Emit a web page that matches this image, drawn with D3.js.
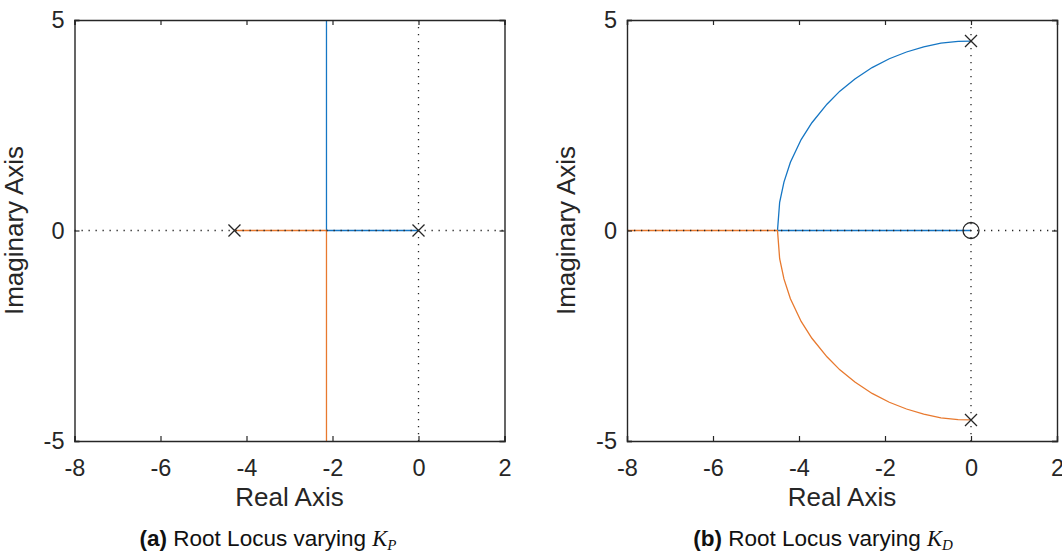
<!DOCTYPE html>
<html>
<head>
<meta charset="utf-8">
<script src="https://cdn.jsdelivr.net/npm/d3@7"></script>
<style>
  body { margin: 0; background: #fff; }
  svg { display: block; font-family: "Liberation Sans", Arial, sans-serif; }
</style>
</head>
<body>
<svg id="chart" width="1062" height="553"></svg>
<script>
// axis settings (shared by both panels)
var xDomain = [-8, 2];
var yDomain = [-5, 5];
var xTicks = [-8, -6, -4, -2, 0, 2];
var yTicks = [-5, 0, 5];

// (a) varying Kp : open-loop poles and the two branches
var kpPoles = [[0, 0], [-4.28, 0]];
var kpZeros = [];
var kpBranch1 = [[0, 0], [-2.14, 0], [-2.14, 10]];
var kpBranch2 = [[-4.28, 0], [-2.14, 0], [-2.14, -10]];

// (b) varying Kd : poles at +-4.5j, zero at origin
var kdPoles = [[0, 4.5], [0, -4.5]];
var kdZeros = [[0, 0]];
var kdBranch1 = [[0, 4.5], [-0.3, 4.49], [-0.7, 4.45], [-1.1, 4.36], [-1.5, 4.24], [-1.9, 4.08],
                 [-2.3, 3.87], [-2.7, 3.6], [-3.05, 3.31], [-3.35, 3.0], [-3.7, 2.56], [-3.95, 2.16],
                 [-4.2, 1.62], [-4.35, 1.15], [-4.45, 0.67], [-4.5, 0], [0, 0]];
var kdBranch2 = [[0, -4.5], [-0.3, -4.49], [-0.7, -4.45], [-1.1, -4.36], [-1.5, -4.24], [-1.9, -4.08],
                 [-2.3, -3.87], [-2.7, -3.6], [-3.05, -3.31], [-3.35, -3.0], [-3.7, -2.56], [-3.95, -2.16],
                 [-4.2, -1.62], [-4.35, -1.15], [-4.45, -0.67], [-4.5, 0], [-10, 0]];

var blue = "#1576C4", orange = "#E8792E", ink = "#262626";

var svg = d3.select("#chart");

function drawPanel(id, left, branches, poles, zeros, caption, sub, capX){
    var top = 20, w = 430, h = 421;
    var x = d3.scaleLinear().domain(xDomain).range([0, w]);
    var y = d3.scaleLinear().domain(yDomain).range([h, 0]);

    var g = svg.append("g").attr("transform", "translate(" + left + "," + top + ")");

    g.append("clipPath").attr("id", "clip" + id)
        .append("rect").attr("width", w).attr("height", h);

    var plot = g.append("g").attr("clip-path", "url(#clip" + id + ")");

    var line = d3.line().x(d => x(d[0])).y(d => y(d[1]));

    plot.selectAll(".branch")
        .data(branches)
        .enter()
        .append("path")
        .attr("class", "branch")
        .attr("d", d => line(d))
        .attr("fill", "none")
        .attr("stroke", (d, i) => i == 0 ? blue : orange)
        .attr("stroke-width", 1.3);

    // dotted lines through the origin
    plot.append("line")
        .attr("x1", 0).attr("x2", w).attr("y1", y(0)).attr("y2", y(0))
        .attr("stroke", ink).attr("stroke-width", 1.3).attr("stroke-dasharray", "1.3,5.7");
    plot.append("line")
        .attr("x1", x(0)).attr("x2", x(0)).attr("y1", 0).attr("y2", h)
        .attr("stroke", ink).attr("stroke-width", 1.3).attr("stroke-dasharray", "1.3,5.7");

    var s = 6;
    plot.selectAll(".pole")
        .data(poles)
        .enter()
        .append("path")
        .attr("class", "pole")
        .attr("d", d => {
            var px = x(d[0]), py = y(d[1]);
            return "M" + (px - s) + "," + (py - s) + "L" + (px + s) + "," + (py + s) +
                   "M" + (px - s) + "," + (py + s) + "L" + (px + s) + "," + (py - s);
        })
        .attr("stroke", ink).attr("stroke-width", 1.3).attr("fill", "none");

    plot.selectAll(".zero")
        .data(zeros)
        .enter()
        .append("circle")
        .attr("class", "zero")
        .attr("cx", d => x(d[0])).attr("cy", d => y(d[1])).attr("r", 8)
        .attr("stroke", ink).attr("stroke-width", 1.3).attr("fill", "none");

    // axes, ticks pointing in, box on
    var fmt = d => String(d);
    var axes = [
        [d3.axisBottom(x).tickValues(xTicks).tickSize(-5).tickPadding(18).tickFormat(fmt), "translate(0," + h + ")", true],
        [d3.axisTop(x).tickValues(xTicks).tickSize(-5).tickFormat(fmt), "translate(0,0)", false],
        [d3.axisLeft(y).tickValues(yTicks).tickSize(-5).tickPadding(10).tickFormat(fmt), "translate(0,0)", true],
        [d3.axisRight(y).tickValues(yTicks).tickSize(-5).tickFormat(fmt), "translate(" + w + ",0)", false]
    ];
    axes.forEach(a => {
        var ax = g.append("g").attr("transform", a[1]).call(a[0]);
        ax.select(".domain").attr("stroke", ink).attr("stroke-width", 1.4);
        ax.selectAll(".tick line").attr("stroke", ink).attr("stroke-width", 1.2);
        ax.selectAll("text").attr("fill", ink).style("font-size", "23.5px")
          .style("font-family", "'Liberation Sans', Arial, sans-serif")
          .style("display", a[2] ? null : "none");
    });

    g.append("text")
        .attr("x", w / 2).attr("y", h + 65)
        .attr("text-anchor", "middle")
        .attr("fill", ink)
        .style("font-size", "26px")
        .text("Real Axis");

    g.append("text")
        .attr("transform", "translate(-52," + (h / 2) + ") rotate(-90)")
        .attr("text-anchor", "middle")
        .attr("fill", ink)
        .style("font-size", "26px")
        .text("Imaginary Axis");

    var cap = svg.append("text")
        .attr("x", capX).attr("y", 546)
        .attr("text-anchor", "middle")
        .attr("fill", "#111")
        .style("font-size", "22.5px");
    cap.append("tspan").style("font-weight", "bold").text(caption);
    cap.append("tspan").text(" Root Locus varying ");
    cap.append("tspan").style("font-family", "'Liberation Serif', 'DejaVu Serif', serif")
        .style("font-style", "italic").text("K");
    cap.append("tspan").style("font-family", "'Liberation Serif', 'DejaVu Serif', serif")
        .style("font-style", "italic").style("font-size", "15px").attr("dy", 4).text(sub);
}

drawPanel("a", 74.5, [kpBranch1, kpBranch2], kpPoles, kpZeros, "(a)", "P", 268);
drawPanel("b", 627, [kdBranch1, kdBranch2], kdPoles, kdZeros, "(b)", "D", 823);
</script>
</body>
</html>
